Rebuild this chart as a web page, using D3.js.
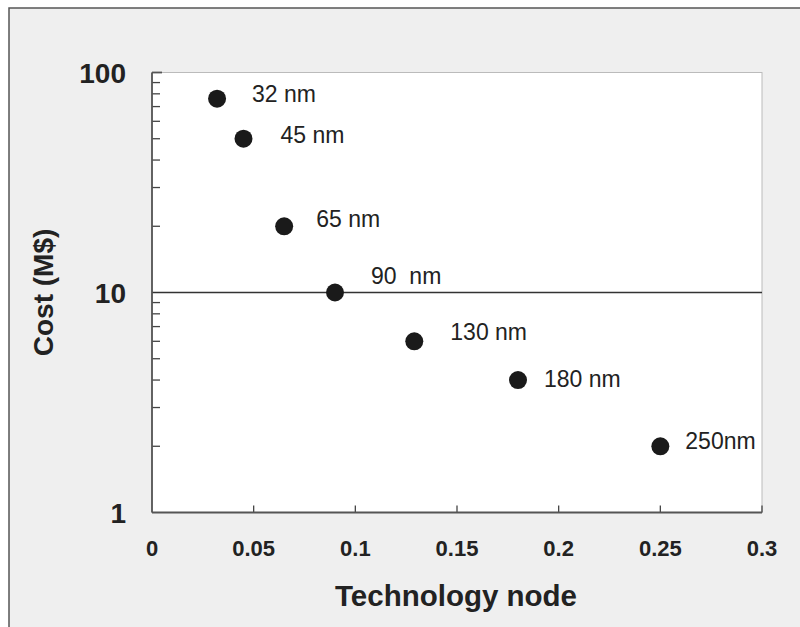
<html>
<head>
<script src="https://d3js.org/d3.v7.min.js"></script>
<style>
body { margin: 0; background: #fff; }
text { font-family: "Liberation Sans", Arial, sans-serif; fill: #222; }
.tick-y { font-size: 28px; font-weight: bold; }
.tick-x { font-size: 22px; font-weight: bold; }
.title { font-size: 29.5px; font-weight: bold; }
.label { font-size: 23px; }
</style>
</head>
<body>
<div id="chart"></div>
<script>
// data
var nodes = ["32 nm", "45 nm", "65 nm", "90  nm", "130 nm", "180 nm", "250nm"];
var nodeSize = [0.032, 0.045, 0.065, 0.09, 0.129, 0.18, 0.25];
var costs = [76, 50, 20, 10, 6, 4, 2];
var xTicks = [0, 0.05, 0.1, 0.15, 0.2, 0.25, 0.3];
var yTicks = [1, 10, 100];

// label nudges (px) relative to each point
var nudge = [[35, 3.5], [37, 4], [32, 1], [36, -9], [36, -1], [26, 7], [25, 3]];

var W = 800, H = 627;
var pLeft = 152, pRight = 762, pTop = 72.5, pBottom = 512.5;

var svg = d3.select("#chart").append("svg")
  .attr("width", W).attr("height", H);

svg.append("rect")
  .attr("x", 9).attr("y", 8).attr("width", W).attr("height", H)
  .attr("fill", "#efefef").attr("stroke", "#555").attr("stroke-width", 1.5);

var x = d3.scaleLinear().domain([0, 0.3]).range([pLeft, pRight]);
var y = d3.scaleLog().domain([1, 100]).range([pBottom, pTop]);

// plot area
svg.append("rect")
  .attr("x", pLeft).attr("y", pTop)
  .attr("width", pRight - pLeft).attr("height", pBottom - pTop)
  .attr("fill", "#fff").attr("stroke", "#bbb").attr("stroke-width", 1);

// gridline at 10
svg.append("line")
  .attr("x1", pLeft).attr("x2", pRight)
  .attr("y1", y(10)).attr("y2", y(10))
  .attr("stroke", "#333").attr("stroke-width", 1.3);

// minor y ticks
var minor = [];
[1, 10].forEach(function(d) { for (var k = 2; k <= 9; k++) minor.push(d * k); });
svg.append("g").selectAll("line").data(minor).enter().append("line")
  .attr("x1", pLeft).attr("x2", pLeft + 8)
  .attr("y1", d => y(d)).attr("y2", d => y(d))
  .attr("stroke", "#444").attr("stroke-width", 1.3);

// x ticks inward
svg.append("g").selectAll("line").data(xTicks.slice(1)).enter().append("line")
  .attr("x1", d => x(d)).attr("x2", d => x(d))
  .attr("y1", pBottom).attr("y2", pBottom - 7)
  .attr("stroke", "#444").attr("stroke-width", 1.3);

// axes lines
svg.append("line").attr("x1", pLeft).attr("x2", pLeft).attr("y1", pTop).attr("y2", pBottom)
  .attr("stroke", "#555").attr("stroke-width", 1.8);
svg.append("line").attr("x1", pLeft).attr("x2", pRight).attr("y1", pBottom).attr("y2", pBottom)
  .attr("stroke", "#555").attr("stroke-width", 1.8);
svg.append("line").attr("x1", pLeft).attr("x2", pLeft + 10).attr("y1", pTop).attr("y2", pTop)
  .attr("stroke", "#555").attr("stroke-width", 1.8);

// tick labels
svg.append("g").selectAll("text").data(yTicks).enter().append("text")
  .attr("class", "tick-y")
  .attr("x", 126).attr("y", d => y(d) + 10.5)
  .attr("text-anchor", "end")
  .text(d => d);

svg.append("g").selectAll("text").data(xTicks).enter().append("text")
  .attr("class", "tick-x")
  .attr("x", d => x(d)).attr("y", 556)
  .attr("text-anchor", "middle")
  .text(d => d);

// axis titles
svg.append("text").attr("class", "title")
  .attr("x", 456).attr("y", 606).attr("text-anchor", "middle")
  .text("Technology node");
svg.append("text").attr("class", "title")
  .style("font-size", "28px")
  .attr("transform", "translate(53," + y(10) + ") rotate(-90)")
  .attr("text-anchor", "middle")
  .text("Cost (M$)");

// points
var pts = nodes.map((n, i) => ({ name: n, x: nodeSize[i], y: costs[i], i: i }));
svg.append("g").selectAll("circle").data(pts).enter().append("circle")
  .attr("cx", d => x(d.x)).attr("cy", d => y(d.y))
  .attr("r", 9).attr("fill", "#1a1a1a");

svg.append("g").selectAll("text").data(pts).enter().append("text")
  .attr("class", "label")
  .attr("x", d => x(d.x) + nudge[d.i][0])
  .attr("y", d => y(d.y) + nudge[d.i][1])
  .style("white-space", "pre")
  .text(d => d.name);
</script>
</body>
</html>
